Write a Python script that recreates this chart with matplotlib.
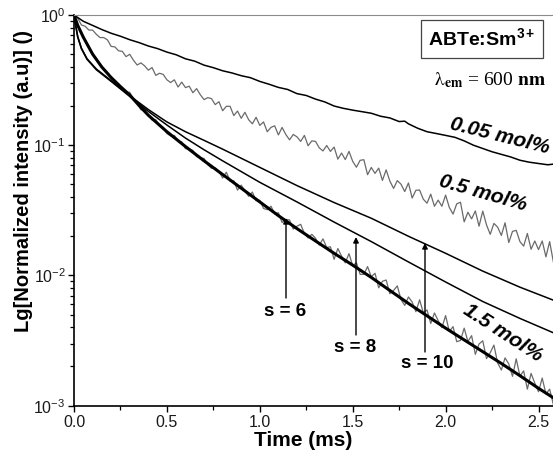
import numpy as np
import matplotlib
matplotlib.use("Agg")
import matplotlib.pyplot as plt
from matplotlib.ticker import FixedLocator, FormatStrFormatter, LogLocator

plt.rcParams['font.family'] = ['Liberation Sans', 'DejaVu Sans']
plt.rcParams['mathtext.fontset'] = 'stix'

# ---------------- data ----------------
# measured decay, 0.05 mol%
t_005 = [0.00, 0.05, 0.10, 0.15, 0.20, 0.25, 0.30, 0.35, 0.40, 0.45, 0.50, 0.55,
         0.60, 0.65, 0.70, 0.75, 0.80, 0.85, 0.90, 0.95, 1.00, 1.05, 1.10, 1.15,
         1.20, 1.25, 1.30, 1.35, 1.40, 1.45, 1.50, 1.55, 1.60, 1.65, 1.70, 1.75,
         1.78, 1.80, 1.85, 1.90, 1.95, 2.00, 2.05, 2.10, 2.15, 2.20, 2.25, 2.30,
         2.35, 2.40, 2.45, 2.50, 2.55, 2.58]
i_005 = [1.0, 0.895, 0.832, 0.773, 0.724, 0.687, 0.646, 0.614, 0.578, 0.552, 0.519, 0.495,
         0.461, 0.442, 0.412, 0.394, 0.373, 0.359, 0.342, 0.330, 0.309, 0.294, 0.278, 0.268,
         0.249, 0.241, 0.226, 0.215, 0.200, 0.192, 0.186, 0.181, 0.176, 0.167, 0.162, 0.152,
         0.153, 0.146, 0.135, 0.127, 0.123, 0.119, 0.115, 0.108, 0.100, 0.0944, 0.0891, 0.0851,
         0.0813, 0.0767, 0.0741, 0.0724, 0.0708, 0.0716]

# sampling grid of the noisy decays (ms)
t_grid = np.linspace(0.0, 2.58, 130)

# measured decay, 0.5 mol%
i_05 = [1.0, 0.944, 0.838, 0.820, 0.766, 0.766, 0.711, 0.671, 0.671, 0.644,
        0.574, 0.569, 0.531, 0.526, 0.479, 0.499, 0.449, 0.413, 0.429, 0.407,
        0.377, 0.395, 0.344, 0.357, 0.350, 0.318, 0.303, 0.318, 0.280, 0.305,
        0.277, 0.284, 0.253, 0.272, 0.244, 0.224, 0.232, 0.228, 0.205, 0.216,
        0.184, 0.199, 0.199, 0.169, 0.183, 0.161, 0.179, 0.157, 0.146, 0.164,
        0.142, 0.151, 0.127, 0.137, 0.141, 0.120, 0.137, 0.121, 0.110, 0.121,
        0.116, 0.107, 0.119, 0.0991, 0.108, 0.107, 0.0955, 0.0904, 0.0995, 0.0897,
        0.0968, 0.0782, 0.0871, 0.0776, 0.0897, 0.0752, 0.0678, 0.0766, 0.0774, 0.0594,
        0.0675, 0.0608, 0.0667, 0.0537, 0.0647, 0.0531, 0.0466, 0.0535, 0.0502, 0.0441,
        0.0513, 0.0393, 0.0451, 0.0453, 0.0385, 0.0359, 0.0421, 0.0340, 0.0379, 0.0340,
        0.0414, 0.0333, 0.0296, 0.0355, 0.0365, 0.0258, 0.0306, 0.0272, 0.0313, 0.0239,
        0.0312, 0.0245, 0.0207, 0.0251, 0.0235, 0.0203, 0.0254, 0.0179, 0.0218, 0.0222,
        0.0182, 0.0168, 0.0210, 0.0159, 0.0184, 0.0158, 0.0184, 0.0139, 0.0182, 0.0127]

# measured decay, 1.5 mol%
i_15 = [1.0, 0.832, 0.723, 0.643, 0.556, 0.504, 0.462, 0.412, 0.385, 0.362,
        0.329, 0.306, 0.294, 0.274, 0.255, 0.255, 0.223, 0.213, 0.187, 0.187,
        0.170, 0.156, 0.157, 0.141, 0.137, 0.123, 0.118, 0.119, 0.108, 0.106,
        0.0940, 0.0940, 0.0912, 0.0817, 0.0802, 0.0791, 0.0710, 0.0665, 0.0670, 0.0630,
        0.0560, 0.0621, 0.0530, 0.0533, 0.0452, 0.0494, 0.0446, 0.0405, 0.0437, 0.0375,
        0.0378, 0.0327, 0.0320, 0.0340, 0.0299, 0.0303, 0.0255, 0.0269, 0.0267, 0.0227,
        0.0239, 0.0247, 0.0210, 0.0194, 0.0207, 0.0193, 0.0171, 0.0191, 0.0164, 0.0166,
        0.0133, 0.0161, 0.0141, 0.0125, 0.0147, 0.0119, 0.0125, 0.0102, 0.0102, 0.0117,
        0.00977, 0.0104, 0.00804, 0.00902, 0.00923, 0.00724, 0.00767, 0.00832, 0.00653, 0.00589,
        0.00684, 0.00625, 0.00527, 0.00650, 0.00518, 0.00543, 0.00428, 0.00515, 0.00450, 0.00397,
        0.00492, 0.00371, 0.00405, 0.00310, 0.00317, 0.00394, 0.00311, 0.00345, 0.00248, 0.00298,
        0.00315, 0.00230, 0.00255, 0.00292, 0.00213, 0.00188, 0.00233, 0.00209, 0.00168, 0.00229,
        0.00169, 0.00185, 0.00134, 0.00177, 0.00149, 0.00128, 0.00163, 0.00123, 0.00134, 0.00102]

# fitted curves (s = 6, 8, 10)
t_s6 = [0.0, 0.02, 0.05, 0.10, 0.15, 0.20, 0.25, 0.30, 0.35, 0.40, 0.50, 0.60, 0.70, 0.80,
        0.90, 1.00, 1.10, 1.20, 1.30, 1.40, 1.50, 1.60, 1.70, 1.80, 1.90, 2.00, 2.10, 2.20,
        2.30, 2.40, 2.50, 2.58]
i_s6 = [1.0, 0.832, 0.676, 0.501, 0.398, 0.331, 0.282, 0.243, 0.202, 0.170, 0.127, 0.0977,
        0.0759, 0.0596, 0.0468, 0.0367, 0.0288, 0.0229, 0.0184, 0.0148, 0.0120, 0.00966,
        0.00767, 0.00610, 0.00490, 0.00394, 0.00320, 0.00260, 0.00211, 0.00170, 0.00136, 0.00115]

t_s8 = [0.0, 0.01, 0.02, 0.04, 0.07, 0.12, 0.20, 0.30, 0.40, 0.50, 0.60, 0.70, 0.80,
        1.00, 1.20, 1.40, 1.60, 1.80, 2.00, 2.20, 2.40, 2.58]
i_s8 = [1.0, 0.813, 0.676, 0.550, 0.457, 0.380, 0.309, 0.237, 0.182, 0.143, 0.1135, 0.0923,
        0.0759, 0.0519, 0.0367, 0.0257, 0.0182, 0.0127, 0.00891, 0.00631, 0.00468, 0.00363]

t_s10 = [0.0, 0.01, 0.02, 0.04, 0.07, 0.12, 0.20, 0.30, 0.40, 0.50, 0.60, 0.70, 0.80,
         1.00, 1.20, 1.40, 1.60, 1.80, 2.00, 2.20, 2.40, 2.58]
i_s10 = [1.0, 0.822, 0.684, 0.556, 0.462, 0.385, 0.313, 0.240, 0.188, 0.151, 0.127, 0.109,
         0.0933, 0.0676, 0.0490, 0.0363, 0.0275, 0.0200, 0.0148, 0.0108, 0.00813, 0.00646]

x_ticks = [0.0, 0.5, 1.0, 1.5, 2.0, 2.5]

# ---------------- figure ----------------
W, H = 553, 455
fig = plt.figure(figsize=(W / 100, H / 100), dpi=100)
L, R, T, B = 74, 553, 15, 405.7
ax = fig.add_axes([L / W, (H - B) / H, (R - L) / W, (B - T) / H])

def fx(px):
    return (px - L) / (R - L)

def fy(py):
    return (B - py) / (B - T)

ax.semilogy(t_grid, i_15, color='#6a6a6a', lw=0.9)
ax.semilogy(t_grid, i_05, color='#6a6a6a', lw=0.9)
ax.semilogy(t_005, i_005, color='black', lw=1.1)
ax.semilogy(t_s10, i_s10, color='black', lw=1.1)
ax.semilogy(t_s8, i_s8, color='black', lw=1.1)
ax.semilogy(t_s6, i_s6, color='black', lw=2.2)

ax.set_xlim(0, 2.578)
ax.set_ylim(1e-3, 1)

ax.spines['right'].set_visible(False)
ax.spines['top'].set_color('#8c8c8c')
ax.spines['top'].set_linewidth(0.8)
for s in ('left', 'bottom'):
    ax.spines[s].set_linewidth(1.2)

ax.xaxis.set_major_locator(FixedLocator(x_ticks))
ax.xaxis.set_minor_locator(FixedLocator([0.25, 0.75, 1.25, 1.75, 2.25]))
ax.xaxis.set_major_formatter(FormatStrFormatter('%.1f'))
ax.yaxis.set_minor_locator(LogLocator(base=10, subs=np.arange(2, 10)))
ax.tick_params(which='major', direction='out', length=4, width=1.0,
               labelsize=11.5, colors='black', labelcolor='#1a1a1a', top=False, right=False)
ax.tick_params(which='minor', direction='out', length=3, width=0.9,
               top=False, right=False)
ax.tick_params(axis='x', pad=3)
ax.tick_params(axis='y', pad=2)

ax.text(fx(303), fy(440), 'Time (ms)', transform=ax.transAxes, ha='center', va='center',
        fontsize=15, fontweight='bold')
ax.text(fx(24), fy(181), 'Lg[Normalized intensity (a.u)] ()', transform=ax.transAxes,
        ha='center', va='center', rotation=90, fontsize=14.5, fontweight='bold')

# legend-like box and emission text
ax.text(fx(482), fy(39), r'ABTe:Sm$^{\mathdefault{3+}}$', transform=ax.transAxes,
        ha='center', va='center', fontsize=14, fontweight='bold',
        bbox=dict(boxstyle='square,pad=0.4', fc='white', ec='#444444', lw=0.9))
ax.text(fx(490), fy(80), r'$\mathrm{\lambda}_{\mathsf{\mathbf{em}}}$ = 600 $\mathbf{nm}$',
        transform=ax.transAxes, ha='center', va='center', fontsize=14,
        family='Liberation Serif')

# rotated concentration labels
ax.text(fx(500), fy(136), '0.05 mol%', transform=ax.transAxes, ha='center', va='center',
        rotation=-14, rotation_mode='anchor', fontsize=15, fontweight='bold', style='italic')
ax.text(fx(483), fy(193), '0.5 mol%', transform=ax.transAxes, ha='center', va='center',
        rotation=-16, rotation_mode='anchor', fontsize=15, fontweight='bold', style='italic')
ax.text(fx(503), fy(333), '1.5 mol%', transform=ax.transAxes, ha='center', va='center',
        rotation=-33, rotation_mode='anchor', fontsize=15, fontweight='bold', style='italic')

# arrows and s labels
arrows = [(286, 218, 298, 285, 312, 's = 6'),
          (356, 237, 335, 355, 348, 's = 8'),
          (425, 243, 352, 427, 363, 's = 10')]
for xa, ytip, ytail, xl, yl, lab in arrows:
    ax.annotate('', xy=(fx(xa), fy(ytip)), xytext=(fx(xa), fy(ytail)),
                xycoords='axes fraction', textcoords='axes fraction',
                arrowprops=dict(arrowstyle='-|>', color='black', lw=1.0,
                                mutation_scale=8, shrinkA=0, shrinkB=0))
    ax.text(fx(xl), fy(yl), lab, transform=ax.transAxes, ha='center', va='center',
            fontsize=13.5, fontweight='bold')

fig.savefig('out.png', dpi=100)
